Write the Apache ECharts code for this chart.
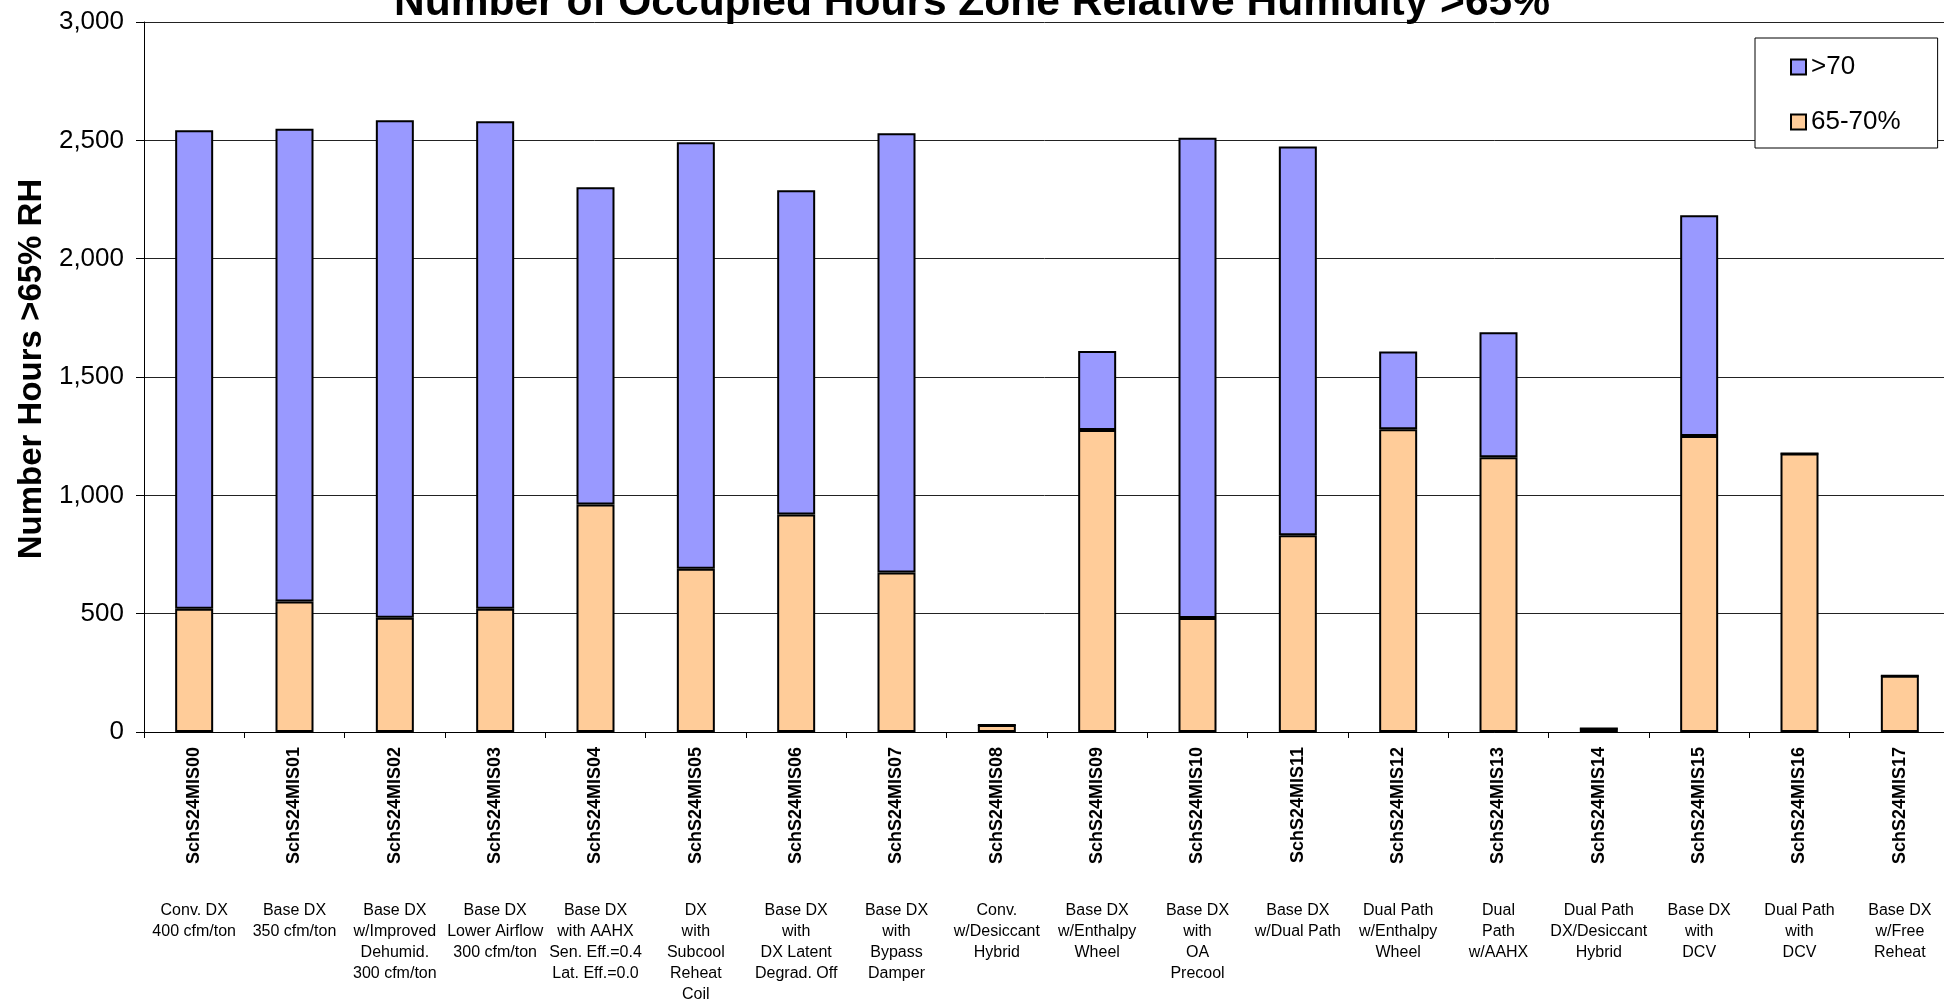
<!DOCTYPE html>
<html>
<head>
<meta charset="utf-8">
<script src="https://cdn.jsdelivr.net/npm/echarts@6/dist/echarts.min.js"></script>
<style>
html,body{margin:0;padding:0;background:#fff;overflow:hidden;}
#chart{width:1944px;height:1002px;}
</style>
</head>
<body>
<div id="chart"></div>
<script>
const categories = ["SchS24MIS00","SchS24MIS01","SchS24MIS02","SchS24MIS03","SchS24MIS04","SchS24MIS05","SchS24MIS06","SchS24MIS07","SchS24MIS08","SchS24MIS09","SchS24MIS10","SchS24MIS11","SchS24MIS12","SchS24MIS13","SchS24MIS14","SchS24MIS15","SchS24MIS16","SchS24MIS17"];
const descriptions = [
  "Conv. DX\n400 cfm/ton",
  "Base DX\n350 cfm/ton",
  "Base DX\nw/Improved\nDehumid.\n300 cfm/ton",
  "Base DX\nLower Airflow\n300 cfm/ton",
  "Base DX\nwith AAHX\nSen. Eff.=0.4\nLat. Eff.=0.0",
  "DX\nwith\nSubcool\nReheat\nCoil",
  "Base DX\nwith\nDX Latent\nDegrad. Off",
  "Base DX\nwith\nBypass\nDamper",
  "Conv.\nw/Desiccant\nHybrid",
  "Base DX\nw/Enthalpy\nWheel",
  "Base DX\nwith\nOA\nPrecool",
  "Base DX\nw/Dual Path",
  "Dual Path\nw/Enthalpy\nWheel",
  "Dual\nPath\nw/AAHX",
  "Dual Path\nDX/Desiccant\nHybrid",
  "Base DX\nwith\nDCV",
  "Dual Path\nwith\nDCV",
  "Base DX\nw/Free\nReheat"
];
const rh65to70 = [521, 551, 483, 521, 961, 690, 919, 674, 30, 1276, 482, 831, 1279, 1161, 15, 1251, 1177, 238];
const rhOver70 = [2022, 1998, 2102, 2060, 1341, 1802, 1370, 1856, 0, 334, 2029, 1643, 329, 528, 0, 932, 0, 0];
const yTicks = [0, 500, 1000, 1500, 2000, 2500, 3000];

const FONT = '"Liberation Sans", Arial, sans-serif';
const chart = echarts.init(document.getElementById('chart'), null, {renderer: 'canvas'});
chart.setOption({
  animation: false,
  backgroundColor: '#fff',
  textStyle: {fontFamily: FONT},
  title: {
    text: 'Number of Occupied Hours Zone Relative Humidity >65%',
    left: 'center',
    top: -23,
    textStyle: {fontFamily: FONT, fontWeight: 'bold', fontSize: 42.5, lineHeight: 42.5, color: '#000'}
  },
  legend: {
    orient: 'vertical',
    left: 1755,
    top: 38,
    data: ['>70', '65-70%'],
    icon: 'rect',
    itemWidth: 15,
    itemHeight: 15,
    itemGap: 29,
    padding: [16, 37, 13, 35],
    borderColor: '#000',
    borderWidth: 1,
    backgroundColor: '#fff',
    textStyle: {fontFamily: FONT, fontSize: 26, color: '#000'},
    itemStyle: {borderColor: '#000', borderWidth: 2}
  },
  grid: {left: 144, right: -6, top: 22, bottom: 270, outerBoundsMode: 'none', containLabel: false},
  xAxis: [{
    type: 'category',
    data: categories,
    axisLine: {show: true, lineStyle: {color: '#000', width: 1}},
    axisTick: {show: true, alignWithLabel: false, length: 6, lineStyle: {color: '#000'}},
    axisLabel: {interval: 0, rotate: 90, margin: 15, fontFamily: FONT, fontWeight: 'bold', fontSize: 18, color: '#000'}
  }, {
    type: 'category',
    data: descriptions,
    position: 'bottom',
    offset: 160,
    axisLine: {show: false},
    axisTick: {show: false},
    axisLabel: {interval: 0, margin: 8, fontFamily: FONT, fontSize: 16, lineHeight: 21, color: '#000', align: 'center'}
  }],
  yAxis: {
    type: 'value',
    min: yTicks[0],
    max: yTicks[yTicks.length - 1],
    interval: yTicks[1] - yTicks[0],
    name: 'Number Hours >65% RH',
    nameLocation: 'middle',
    nameGap: 90,
    nameTextStyle: {fontFamily: FONT, fontWeight: 'bold', fontSize: 33, color: '#000', padding: [0, 0, 0, 16]},
    axisLine: {show: true, lineStyle: {color: '#000', width: 1}},
    axisTick: {show: true, length: 8, lineStyle: {color: '#000'}},
    axisLabel: {margin: 20, fontFamily: FONT, fontSize: 26, color: '#000',
      formatter: v => v.toLocaleString('en-US')},
    splitLine: {show: true, lineStyle: {color: '#222', width: 1}}
  },
  series: [{
    name: '65-70%',
    type: 'bar',
    stack: 'rh',
    xAxisIndex: 0,
    data: rh65to70,
    barWidth: 38,
    itemStyle: {color: '#FFCC99', borderColor: '#000', borderWidth: 2}
  }, {
    name: '>70',
    type: 'bar',
    stack: 'rh',
    xAxisIndex: 0,
    data: rhOver70,
    barWidth: 38,
    itemStyle: {color: '#9999FF', borderColor: '#000', borderWidth: 2}
  }]
});
</script>
</body>
</html>
